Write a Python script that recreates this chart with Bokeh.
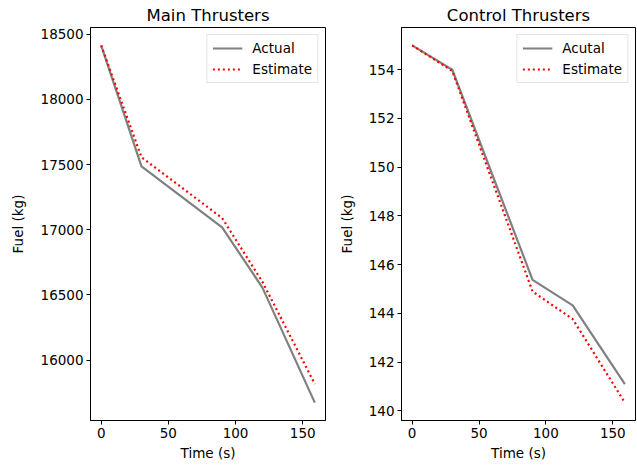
from bokeh.plotting import figure
from bokeh.layouts import row
from bokeh.models import Range1d, FixedTicker, Legend, LegendItem
from bokeh.embed import file_html
from bokeh.resources import INLINE

time = [0, 30, 90, 120, 159]
main_actual = [18415, 17487, 17018, 16556, 15673]
main_estimate = [18415, 17556, 17090, 16600, 15816]
ctrl_actual = [155.0, 154.0, 145.38, 144.33, 141.1]
ctrl_estimate = [155.0, 153.95, 144.9, 143.77, 140.34]

main_labels = ["Actual", "Estimate"]
ctrl_labels = ["Acutal", "Estimate"]
titles = ["Main Thrusters", "Control Thrusters"]
x_ticks = [0, 50, 100, 150]
main_y_ticks = [16000, 16500, 17000, 17500, 18000, 18500]
ctrl_y_ticks = [140, 142, 144, 146, 148, 150, 152, 154]

FONT = "DejaVu Sans"


def pad_range(vals, frac=0.05):
    lo, hi = min(vals), max(vals)
    span = hi - lo
    return Range1d(lo - frac * span, hi + frac * span)


def make(title, actual, estimate, labels, yticks, width, bl, br, ystand):
    p = figure(width=width, height=466, output_backend="svg", toolbar_location=None,
               x_range=pad_range(time), y_range=pad_range(actual + estimate),
               min_border_left=bl, min_border_right=br, min_border_top=27, min_border_bottom=46)
    p.title.text = title
    p.title.align = "center"
    p.title.text_font = FONT
    p.title.text_font_size = "16.5px"
    p.title.text_font_style = "normal"
    p.title.text_color = "black"
    p.title.offset = 0
    p.title.standoff = 6
    p.xgrid.visible = False
    p.ygrid.visible = False
    p.outline_line_color = "black"
    p.outline_line_width = 1
    p.outline_line_alpha = 1
    for ax in (p.xaxis[0], p.yaxis[0]):
        ax.major_tick_out = 4
        ax.major_tick_in = 0
        ax.minor_tick_out = 0
        ax.minor_tick_in = 0
        ax.major_label_text_font = FONT
        ax.major_label_text_font_size = "13.5px"
        ax.major_label_text_color = "black"
        ax.axis_label_text_font = FONT
        ax.axis_label_text_font_size = "13.5px"
        ax.axis_label_text_font_style = "normal"
        ax.axis_label_text_color = "black"
        ax.axis_line_color = "black"
        ax.major_tick_line_color = "black"
        ax.major_label_standoff = 3
    p.xaxis[0].ticker = FixedTicker(ticks=x_ticks)
    p.yaxis[0].ticker = FixedTicker(ticks=yticks)
    p.xaxis[0].axis_label = "Time (s)"
    p.yaxis[0].axis_label = "Fuel (kg)"
    p.xaxis[0].axis_label_standoff = 4
    p.yaxis[0].axis_label_standoff = ystand

    r1 = p.line(time, actual, line_color="#808080", line_width=2.2)
    r2 = p.line(time, estimate, line_color="red", line_width=2.2, line_dash="2 3")
    leg = Legend(items=[LegendItem(label=labels[0], renderers=[r1]),
                        LegendItem(label=labels[1], renderers=[r2])],
                 location="top_right")
    leg.label_text_font = FONT
    leg.label_text_font_size = "13.5px"
    leg.label_text_color = "black"
    leg.border_line_color = "#cccccc"
    leg.border_line_width = 1
    leg.background_fill_alpha = 0.8
    leg.glyph_width = 30
    leg.glyph_height = 14
    leg.label_standoff = 10
    leg.padding = 5
    leg.spacing = 5
    leg.margin = 7
    p.add_layout(leg)
    return p


p1 = make(titles[0], main_actual, main_estimate, main_labels, main_y_ticks, 330, 90, 5, 12)
p2 = make(titles[1], ctrl_actual, ctrl_estimate, ctrl_labels, ctrl_y_ticks, 307, 71, 2, 11)
layout = row(p1, p2)
open("out.html", "w").write(file_html(layout, INLINE))
